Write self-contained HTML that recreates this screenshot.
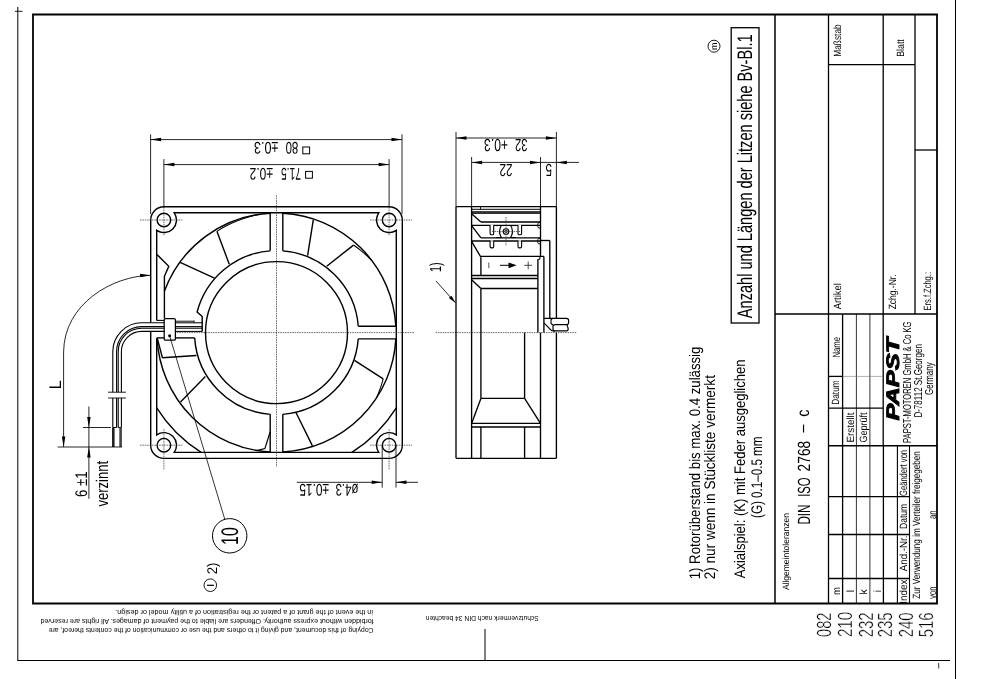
<!DOCTYPE html>
<html><head><meta charset="utf-8"><style>
html,body{margin:0;padding:0;background:#fff;width:1000px;height:679px;overflow:hidden}
svg{display:block;will-change:transform}
text{font-family:"Liberation Sans",sans-serif;-webkit-font-smoothing:antialiased;text-rendering:geometricPrecision}
</style></head><body>
<svg width="1000" height="679" viewBox="0 0 1000 679">
<line x1="17.8" y1="7" x2="17.8" y2="660.5" stroke="#000" stroke-width="1.0"/>
<line x1="15" y1="11.3" x2="22.5" y2="11.3" stroke="#000" stroke-width="0.9"/>
<line x1="17.3" y1="660.5" x2="950" y2="660.5" stroke="#000" stroke-width="1.0"/>
<line x1="955.5" y1="0" x2="955.5" y2="679" stroke="#000" stroke-width="1.0"/>
<line x1="938.7" y1="663" x2="938.7" y2="668.5" stroke="#000" stroke-width="0.8"/>
<line x1="485" y1="629" x2="485" y2="660.5" stroke="#000" stroke-width="1.0"/>
<path d="M33,603.5 L33,14.5 L937,14.5 L937,603.5 Z" fill="none" stroke="#000" stroke-width="1.8"/>
<line x1="775" y1="14.5" x2="775" y2="603.5" stroke="#000" stroke-width="1.5"/>
<line x1="828.5" y1="14.5" x2="828.5" y2="603.5" stroke="#000" stroke-width="1.3"/>
<line x1="883.2" y1="14.5" x2="883.2" y2="446" stroke="#000" stroke-width="1.3"/>
<line x1="915" y1="14.5" x2="915" y2="314" stroke="#000" stroke-width="1.3"/>
<line x1="828.5" y1="64.6" x2="915" y2="64.6" stroke="#000" stroke-width="1.3"/>
<line x1="915" y1="150" x2="937" y2="150" stroke="#000" stroke-width="1.3"/>
<line x1="775" y1="314" x2="937" y2="314" stroke="#000" stroke-width="1.5"/>
<line x1="842.6" y1="314" x2="842.6" y2="603.5" stroke="#000" stroke-width="1.3"/>
<line x1="856.4" y1="314" x2="856.4" y2="603.5" stroke="#000" stroke-width="0.8"/>
<line x1="869.9" y1="314" x2="869.9" y2="603.5" stroke="#000" stroke-width="0.8"/>
<line x1="883.4" y1="446" x2="883.4" y2="603.5" stroke="#000" stroke-width="1.3"/>
<line x1="897.4" y1="446" x2="897.4" y2="603.5" stroke="#000" stroke-width="1.1"/>
<line x1="909.5" y1="446" x2="909.5" y2="603.5" stroke="#000" stroke-width="1.1"/>
<line x1="828.5" y1="376.4" x2="842.6" y2="376.4" stroke="#000" stroke-width="1.3"/>
<line x1="842.6" y1="376.4" x2="883.2" y2="376.4" stroke="#777" stroke-width="0.6"/>
<line x1="828.5" y1="408.2" x2="883.2" y2="408.2" stroke="#000" stroke-width="1.3"/>
<line x1="828.5" y1="445.8" x2="937" y2="445.8" stroke="#000" stroke-width="1.5"/>
<line x1="828.5" y1="496.7" x2="909.5" y2="496.7" stroke="#000" stroke-width="1.3"/>
<line x1="828.5" y1="534.5" x2="909.5" y2="534.5" stroke="#000" stroke-width="1.3"/>
<line x1="828.5" y1="578.5" x2="909.5" y2="578.5" stroke="#000" stroke-width="1.3"/>
<rect x="731.2" y="27.7" width="27.8" height="295.3" fill="none" stroke="#000" stroke-width="1.3"/>
<circle cx="714" cy="46.2" r="6" fill="none" stroke="#000" stroke-width="0.9"/>
<path d="M150.7,322.8 L150.7,220 A13.2,13.2 0 0 1 163.9,206.8 L389.1,206.8 A13.2,13.2 0 0 1 402.3,220 L402.3,445.2 A13.2,13.2 0 0 1 389.1,458.4 L163.9,458.4 A13.2,13.2 0 0 1 150.7,445.2 L150.7,331.6" fill="none" stroke="#000" stroke-width="1.4"/>
<path d="M156.7,320.4 L156.7,230.34 A12.6,12.6 0 0 0 174.24,212.8 L378.76,212.8 A12.6,12.6 0 0 0 396.3,230.34 L396.3,434.86 A12.6,12.6 0 0 0 378.76,452.4 L174.24,452.4 A12.6,12.6 0 0 0 156.7,434.86 L156.7,337.9" fill="none" stroke="#000" stroke-width="1.4"/>
<circle cx="163.9" cy="220" r="6.8" fill="none" stroke="#000" stroke-width="1.4"/>
<line x1="139.9" y1="220" x2="182.9" y2="220" stroke="#333" stroke-width="0.7" stroke-dasharray="1.6,0.8"/>
<line x1="163.9" y1="207" x2="163.9" y2="236" stroke="#333" stroke-width="0.7" stroke-dasharray="1.6,0.8"/>
<circle cx="163.9" cy="445.2" r="6.8" fill="none" stroke="#000" stroke-width="1.4"/>
<line x1="139.9" y1="445.2" x2="182.9" y2="445.2" stroke="#333" stroke-width="0.7" stroke-dasharray="1.6,0.8"/>
<line x1="163.9" y1="429.2" x2="163.9" y2="469.2" stroke="#333" stroke-width="0.7" stroke-dasharray="1.6,0.8"/>
<circle cx="389.1" cy="220" r="6.8" fill="none" stroke="#000" stroke-width="1.4"/>
<line x1="370.1" y1="220" x2="412.1" y2="220" stroke="#333" stroke-width="0.7" stroke-dasharray="1.6,0.8"/>
<line x1="389.1" y1="207" x2="389.1" y2="236" stroke="#333" stroke-width="0.7" stroke-dasharray="1.6,0.8"/>
<circle cx="389.1" cy="445.2" r="6.8" fill="none" stroke="#000" stroke-width="1.4"/>
<line x1="370.1" y1="445.2" x2="412.1" y2="445.2" stroke="#333" stroke-width="0.7" stroke-dasharray="1.6,0.8"/>
<line x1="389.1" y1="429.2" x2="389.1" y2="469.2" stroke="#333" stroke-width="0.7" stroke-dasharray="1.6,0.8"/>
<line x1="276.5" y1="195.3" x2="276.5" y2="467" stroke="#333" stroke-width="0.7" stroke-dasharray="1.6,0.8"/>
<line x1="165" y1="332.6" x2="414" y2="332.6" stroke="#333" stroke-width="0.7" stroke-dasharray="1.6,0.8"/>
<line x1="435.5" y1="332.6" x2="577" y2="332.6" stroke="#333" stroke-width="0.7" stroke-dasharray="1.6,0.8"/>
<circle cx="276.5" cy="332.6" r="71" fill="none" stroke="#000" stroke-width="1.4"/>
<line x1="270.2" y1="250.84" x2="270.2" y2="212.8" stroke="#000" stroke-width="1.4"/>
<line x1="282.8" y1="250.84" x2="282.8" y2="212.8" stroke="#000" stroke-width="1.4"/>
<line x1="270.2" y1="414.36" x2="270.2" y2="452.4" stroke="#000" stroke-width="1.4"/>
<line x1="282.8" y1="414.36" x2="282.8" y2="452.4" stroke="#000" stroke-width="1.4"/>
<line x1="358.26" y1="326.3" x2="396.3" y2="326.3" stroke="#000" stroke-width="1.4"/>
<line x1="358.26" y1="338.9" x2="396.3" y2="338.9" stroke="#000" stroke-width="1.4"/>
<path d="M282.8,250.84 A82.0,82.0 0 0 1 358.26,326.3" fill="none" stroke="#000" stroke-width="1.4"/>
<path d="M358.26,338.9 A82.0,82.0 0 0 1 282.8,414.36" fill="none" stroke="#000" stroke-width="1.4"/>
<path d="M270.2,414.36 A82.0,82.0 0 0 1 194.67,337.9" fill="none" stroke="#000" stroke-width="1.4"/>
<line x1="194.67" y1="337.9" x2="175.4" y2="337.9" stroke="#000" stroke-width="1.4"/>
<line x1="156.7" y1="337.9" x2="164.2" y2="337.9" stroke="#000" stroke-width="1.4"/>
<path d="M270.2,250.84 A82.0,82.0 0 0 0 197.12,312.03 L202.2,316.6 L202.2,331.6" fill="none" stroke="#000" stroke-width="1.4"/>
<path d="M282.8,213.27 A119.5,119.5 0 0 1 395.83,326.3" fill="none" stroke="#000" stroke-width="1.4"/>
<path d="M395.83,338.9 A119.5,119.5 0 0 1 282.8,451.93" fill="none" stroke="#000" stroke-width="1.4"/>
<path d="M270.2,451.93 A119.5,119.5 0 0 1 157.15,338.6" fill="none" stroke="#000" stroke-width="1.4"/>
<path d="M164.4,291.2 A119.5,119.5 0 0 1 270.2,213.27" fill="none" stroke="#000" stroke-width="1.4"/>
<path d="M351.8,452.4 A141.5,141.5 0 0 0 396.3,407.9" fill="none" stroke="#000" stroke-width="1.4"/>
<path d="M156.7,407.9 A141.5,141.5 0 0 0 201.2,452.4" fill="none" stroke="#000" stroke-width="1.4"/>
<polyline points="156.9,254.4 168.8,266.3 164.4,276.3 164.4,318.6" fill="none" stroke="#000" stroke-width="1.4"/>
<line x1="313.3" y1="219.8" x2="307.6" y2="255.7" stroke="#000" stroke-width="1.4"/>
<line x1="353.5" y1="245.1" x2="326.7" y2="266.2" stroke="#000" stroke-width="1.4"/>
<line x1="354.5" y1="360.3" x2="383.2" y2="378.9" stroke="#000" stroke-width="1.4"/>
<line x1="296.1" y1="412.8" x2="312.4" y2="445.9" stroke="#000" stroke-width="1.4"/>
<line x1="162.4" y1="357.7" x2="196.4" y2="355.5" stroke="#000" stroke-width="1.4"/>
<line x1="180.5" y1="401.9" x2="205.4" y2="376.4" stroke="#000" stroke-width="1.4"/>
<line x1="216.9" y1="231.3" x2="229.3" y2="264.3" stroke="#000" stroke-width="1.4"/>
<line x1="180.1" y1="262.3" x2="214.5" y2="278.2" stroke="#000" stroke-width="1.4"/>
<polyline points="157.6,339.4 162.4,357.7" fill="none" stroke="#000" stroke-width="1.4"/>
<polyline points="353.46,245 355.91,246.73 358.33,248.52 360.71,250.39 363.05,252.32 365.34,254.31 367.59,256.37 369.79,258.5 371.94,260.68" fill="none" stroke="#000" stroke-width="1.1"/>
<polyline points="216.86,231.36 221.79,228.33 226.86,225.55 232.08,223.01 237.43,220.73 242.9,218.7 248.47,216.95 254.13,215.47 259.87,214.26" fill="none" stroke="#000" stroke-width="1.1"/>
<polyline points="383.15,378.97 382.48,381.46 381.75,383.93 380.96,386.4 380.11,388.86 379.21,391.3 378.25,393.74 377.23,396.15 376.15,398.56" fill="none" stroke="#000" stroke-width="1.1"/>
<polyline points="270.2,431.8 264.9,448.6 256.5,450.6" fill="none" stroke="#000" stroke-width="1.2"/>
<line x1="175.4" y1="322.8" x2="202.2" y2="322.8" stroke="#000" stroke-width="1.05"/>
<line x1="175.4" y1="326.6" x2="202.2" y2="326.6" stroke="#000" stroke-width="1.05"/>
<line x1="175.4" y1="328.2" x2="202.2" y2="328.2" stroke="#000" stroke-width="1.05"/>
<line x1="175.4" y1="331.4" x2="202.2" y2="331.4" stroke="#000" stroke-width="1.05"/>
<rect x="175.6" y="320.6" width="18.6" height="2.1" fill="#555" stroke="#000" stroke-width="0"/>
<line x1="194.2" y1="320.6" x2="194.2" y2="322.8" stroke="#000" stroke-width="0.8"/>
<line x1="156.7" y1="320.4" x2="164.2" y2="320.4" stroke="#000" stroke-width="1.1"/>
<rect x="164.2" y="318.6" width="11.2" height="21.6" rx="1.3" fill="#fff" stroke="#000" stroke-width="1.25"/>
<circle cx="169.6" cy="335.8" r="1.5" fill="#000" stroke="#000" stroke-width="0"/>
<path d="M164.2,322.8 L141.7,322.8 A28.9,28.9 0 0 0 112.8,351.7 L112.8,392.2" fill="none" stroke="#000" stroke-width="1.1"/>
<path d="M164.2,326.6 L141.7,326.6 A25.1,25.1 0 0 0 116.6,351.7 L116.6,392.2" fill="none" stroke="#000" stroke-width="1.1"/>
<path d="M164.2,328.2 L141.7,328.2 A23.5,23.5 0 0 0 118.2,351.7 L118.2,392.2" fill="none" stroke="#000" stroke-width="1.1"/>
<path d="M164.2,331.4 L141.7,331.4 A20.3,20.3 0 0 0 121.4,351.7 L121.4,392.2" fill="none" stroke="#000" stroke-width="1.1"/>
<line x1="108.1" y1="392.2" x2="125.9" y2="392.2" stroke="#000" stroke-width="0.9"/>
<line x1="108.1" y1="398" x2="125.9" y2="398" stroke="#000" stroke-width="0.9"/>
<line x1="112.8" y1="398" x2="112.8" y2="427.5" stroke="#000" stroke-width="1.1"/>
<line x1="116.6" y1="398" x2="116.6" y2="427.5" stroke="#000" stroke-width="1.1"/>
<line x1="118.2" y1="398" x2="118.2" y2="427.5" stroke="#000" stroke-width="1.1"/>
<line x1="121.4" y1="398" x2="121.4" y2="427.5" stroke="#000" stroke-width="1.1"/>
<line x1="112.8" y1="427.5" x2="116.6" y2="427.5" stroke="#000" stroke-width="1.0"/>
<line x1="118.2" y1="427.5" x2="121.4" y2="427.5" stroke="#000" stroke-width="1.0"/>
<rect x="112" y="427.5" width="2.6" height="19.5" fill="#222" stroke="#000" stroke-width="0"/>
<rect x="119.3" y="427.5" width="2.6" height="19.5" fill="#444" stroke="#000" stroke-width="0"/>
<line x1="169.6" y1="335.8" x2="224.7" y2="519" stroke="#000" stroke-width="0.8"/>
<circle cx="229.7" cy="535.8" r="17.2" fill="none" stroke="#000" stroke-width="1.0"/>
<circle cx="210.3" cy="585.2" r="6.3" fill="none" stroke="#000" stroke-width="0.9"/>
<line x1="207" y1="585.3" x2="213.9" y2="585.3" stroke="#000" stroke-width="1.2"/>
<line x1="150.6" y1="134.3" x2="150.6" y2="214" stroke="#000" stroke-width="0.85"/>
<line x1="402" y1="134.3" x2="402" y2="214" stroke="#000" stroke-width="0.85"/>
<line x1="150.6" y1="139.6" x2="402" y2="139.6" stroke="#000" stroke-width="0.85"/>
<polygon points="150.6,139.6 161.1,137.85 161.1,141.35" fill="#000"/>
<polygon points="402,139.6 391.5,141.35 391.5,137.85" fill="#000"/>
<rect x="302.8" y="147" width="6.8" height="6.8" fill="none" stroke="#000" stroke-width="1.0"/>
<line x1="163.9" y1="159.1" x2="163.9" y2="207.5" stroke="#000" stroke-width="0.85"/>
<line x1="389.1" y1="159.1" x2="389.1" y2="207.5" stroke="#000" stroke-width="0.85"/>
<line x1="163.9" y1="164.6" x2="389.1" y2="164.6" stroke="#000" stroke-width="0.85"/>
<polygon points="163.9,164.6 174.4,162.85 174.4,166.35" fill="#000"/>
<polygon points="389.1,164.6 378.6,166.35 378.6,162.85" fill="#000"/>
<rect x="305.6" y="171.4" width="6.8" height="6.8" fill="none" stroke="#000" stroke-width="1.0"/>
<line x1="382.2" y1="445" x2="382.2" y2="487.6" stroke="#000" stroke-width="0.85"/>
<line x1="396" y1="445" x2="396" y2="487.6" stroke="#000" stroke-width="0.85"/>
<line x1="296.8" y1="482.3" x2="382.2" y2="482.3" stroke="#000" stroke-width="0.85"/>
<line x1="396" y1="482.3" x2="418" y2="482.3" stroke="#000" stroke-width="0.85"/>
<polygon points="382.2,482.3 371.7,484.05 371.7,480.55" fill="#000"/>
<polygon points="396,482.3 406.5,480.55 406.5,484.05" fill="#000"/>
<path d="M150.6,275.3 C112,276 64,304 63.6,352 L63.6,447" fill="none" stroke="#000" stroke-width="0.85"/>
<polygon points="150.6,275.3 140.16,277.36 140.05,273.87" fill="#000"/>
<polygon points="63.6,447 61.85,436.5 65.35,436.5" fill="#000"/>
<line x1="57.7" y1="447" x2="122" y2="447" stroke="#000" stroke-width="0.85"/>
<line x1="83" y1="427.5" x2="111" y2="427.5" stroke="#000" stroke-width="0.85"/>
<line x1="88.9" y1="406.5" x2="88.9" y2="498.8" stroke="#000" stroke-width="0.85"/>
<polygon points="88.9,427.5 87.15,417 90.65,417" fill="#000"/>
<polygon points="88.9,447 90.65,457.5 87.15,457.5" fill="#000"/>
<line x1="456" y1="206.6" x2="556.4" y2="206.6" stroke="#000" stroke-width="1.35"/>
<line x1="456" y1="206.6" x2="456" y2="458.3" stroke="#000" stroke-width="1.35"/>
<line x1="456" y1="458.3" x2="556.4" y2="458.3" stroke="#000" stroke-width="1.35"/>
<line x1="556.4" y1="206.6" x2="556.4" y2="318.4" stroke="#000" stroke-width="1.35"/>
<line x1="556.4" y1="332.6" x2="556.4" y2="458.3" stroke="#000" stroke-width="1.35"/>
<line x1="471.6" y1="206.6" x2="471.6" y2="458.3" stroke="#000" stroke-width="1.35"/>
<line x1="540.5" y1="206.6" x2="540.5" y2="256.4" stroke="#000" stroke-width="1.35"/>
<line x1="540.5" y1="332.6" x2="540.5" y2="458.3" stroke="#000" stroke-width="1.35"/>
<line x1="471.6" y1="209.3" x2="540.5" y2="209.3" stroke="#000" stroke-width="1.0"/>
<line x1="480.5" y1="206.6" x2="480.5" y2="209.3" stroke="#000" stroke-width="0.9"/>
<line x1="471.6" y1="212" x2="540.5" y2="212" stroke="#000" stroke-width="1.35"/>
<line x1="471.6" y1="213.3" x2="540.5" y2="213.3" stroke="#000" stroke-width="1.0"/>
<line x1="471.6" y1="213.8" x2="480.9" y2="222" stroke="#000" stroke-width="1.35"/>
<line x1="471.6" y1="225.6" x2="480.9" y2="237.8" stroke="#000" stroke-width="1.35"/>
<line x1="471.6" y1="241.4" x2="480.9" y2="257.2" stroke="#000" stroke-width="1.35"/>
<line x1="480.9" y1="222" x2="540.5" y2="222" stroke="#000" stroke-width="1.35"/>
<line x1="471.6" y1="225.3" x2="540.5" y2="225.3" stroke="#000" stroke-width="1.35"/>
<line x1="480.9" y1="237.8" x2="540.5" y2="237.8" stroke="#000" stroke-width="1.35"/>
<line x1="471.6" y1="241" x2="540.5" y2="241" stroke="#000" stroke-width="1.35"/>
<path d="M540.5,222.5 L538.5,222.5 L537.8,224.0 L537.8,226.5 L538.5,228.0 L540.5,228.0" fill="none" stroke="#000" stroke-width="0.9"/>
<path d="M540.5,238.3 L538.5,238.3 L537.8,239.8 L537.8,242.3 L538.5,243.8 L540.5,243.8" fill="none" stroke="#000" stroke-width="0.9"/>
<path d="M490.1,225.3 L490.1,233.5 Q490.1,234.8 491.40000000000003,234.8 L492.40000000000003,234.8 Q493.70000000000005,234.8 493.70000000000005,233.5 L493.70000000000005,225.3" fill="none" stroke="#000" stroke-width="1.1"/>
<path d="M490.1,241.0 L490.1,246.6 Q490.1,247.9 491.40000000000003,247.9 L492.40000000000003,247.9 Q493.70000000000005,247.9 493.70000000000005,246.6 L493.70000000000005,241.0" fill="none" stroke="#000" stroke-width="1.1"/>
<rect x="490.6" y="224.6" width="2.6" height="1.4" fill="#fff"/>
<rect x="490.6" y="240.3" width="2.6" height="1.4" fill="#fff"/>
<path d="M518.0,225.3 L518.0,233.5 Q518.0,234.8 519.3,234.8 L520.3,234.8 Q521.6,234.8 521.6,233.5 L521.6,225.3" fill="none" stroke="#000" stroke-width="1.1"/>
<path d="M518.0,241.0 L518.0,246.6 Q518.0,247.9 519.3,247.9 L520.3,247.9 Q521.6,247.9 521.6,246.6 L521.6,241.0" fill="none" stroke="#000" stroke-width="1.1"/>
<rect x="518.5" y="224.6" width="2.6" height="1.4" fill="#fff"/>
<rect x="518.5" y="240.3" width="2.6" height="1.4" fill="#fff"/>
<circle cx="506" cy="231.5" r="2.8" fill="none" stroke="#000" stroke-width="1.1"/>
<rect x="505" y="230.5" width="2" height="2" fill="none" stroke="#000" stroke-width="0.6"/>
<path d="M501.5,225.3 Q497.5,231.5 501.5,237.8" fill="none" stroke="#000" stroke-width="1.1"/>
<path d="M510.5,225.3 Q514.5,231.5 510.5,237.8" fill="none" stroke="#000" stroke-width="1.1"/>
<line x1="496.2" y1="225.6" x2="501.5" y2="225.6" stroke="#000" stroke-width="1.0"/>
<line x1="510.5" y1="225.6" x2="515.8" y2="225.6" stroke="#000" stroke-width="1.0"/>
<line x1="496.2" y1="237.5" x2="501.5" y2="237.5" stroke="#000" stroke-width="1.0"/>
<line x1="510.5" y1="237.5" x2="515.8" y2="237.5" stroke="#000" stroke-width="1.0"/>
<line x1="506" y1="217" x2="506" y2="246" stroke="#333" stroke-width="0.7" stroke-dasharray="1.6,0.8"/>
<line x1="492" y1="231.5" x2="520" y2="231.5" stroke="#333" stroke-width="0.7" stroke-dasharray="1.6,0.8"/>
<line x1="480.9" y1="257.2" x2="480.9" y2="275.5" stroke="#000" stroke-width="1.35"/>
<line x1="480.9" y1="256.4" x2="543.9" y2="256.4" stroke="#000" stroke-width="1.35"/>
<line x1="537.9" y1="259.3" x2="539.9" y2="259.3" stroke="#000" stroke-width="1.0"/>
<line x1="539.9" y1="256.4" x2="539.9" y2="259.3" stroke="#000" stroke-width="1.0"/>
<line x1="537.9" y1="259.3" x2="537.9" y2="332.6" stroke="#000" stroke-width="1.35"/>
<line x1="543.9" y1="256.4" x2="543.9" y2="332.6" stroke="#000" stroke-width="1.35"/>
<line x1="540.5" y1="240.5" x2="549.8" y2="240.5" stroke="#000" stroke-width="1.35"/>
<line x1="549.8" y1="240.5" x2="549.8" y2="318.4" stroke="#000" stroke-width="1.35"/>
<line x1="488.8" y1="262.5" x2="488.8" y2="268.2" stroke="#555" stroke-width="1.0"/>
<line x1="500" y1="265.3" x2="511" y2="265.3" stroke="#000" stroke-width="1.0"/>
<polygon points="516.7,265.3 508.5,262.4 508.5,268.2" fill="#000"/>
<line x1="524.3" y1="265.3" x2="532.1" y2="265.3" stroke="#333" stroke-width="0.9"/>
<line x1="528.2" y1="261.6" x2="528.2" y2="269.2" stroke="#333" stroke-width="0.9"/>
<line x1="471.6" y1="275.5" x2="537.9" y2="275.5" stroke="#000" stroke-width="1.35"/>
<line x1="471.6" y1="278.5" x2="537.9" y2="278.5" stroke="#000" stroke-width="1.35"/>
<line x1="471.6" y1="279.8" x2="480.9" y2="288.5" stroke="#000" stroke-width="1.35"/>
<line x1="480.9" y1="288.5" x2="537.9" y2="288.5" stroke="#000" stroke-width="1.35"/>
<line x1="480.9" y1="288.5" x2="480.9" y2="398.4" stroke="#000" stroke-width="1.35"/>
<path d="M543.9,318.4 L566.5,318.4 Q568.6,318.4 568.6,320.5 L568.6,322.5 Q568.6,324.6 566.5,324.6 L555,324.6 Q553,324.6 553,326.7 L553,328.7 Q553,330.9 555,330.9 L566.5,330.9 Q568.2,330.9 568.2,328.8 L567.6,326.6 Q567.2,324.6 566.5,324.6" fill="none" stroke="#000" stroke-width="1.2"/>
<line x1="550" y1="318.4" x2="550" y2="318.4" stroke="#000" stroke-width="1"/>
<path d="M553,318.4 Q551,318.4 551,320.5 L551,322.5 Q551,324.6 553,324.6" fill="none" stroke="#000" stroke-width="1.1"/>
<line x1="543.9" y1="322.8" x2="551.8" y2="330.9" stroke="#000" stroke-width="1.2"/>
<line x1="551.8" y1="330.9" x2="555" y2="330.9" stroke="#000" stroke-width="1.2"/>
<line x1="524.6" y1="332.6" x2="524.6" y2="398.4" stroke="#000" stroke-width="1.35"/>
<line x1="480.9" y1="398.4" x2="524.6" y2="398.4" stroke="#000" stroke-width="1.35"/>
<line x1="480.9" y1="398.4" x2="471.6" y2="423.4" stroke="#000" stroke-width="1.35"/>
<line x1="524.6" y1="398.4" x2="540.5" y2="423.4" stroke="#000" stroke-width="1.35"/>
<line x1="471.6" y1="423.4" x2="540.5" y2="423.4" stroke="#000" stroke-width="1.35"/>
<line x1="471.6" y1="427" x2="540.5" y2="427" stroke="#000" stroke-width="1.35"/>
<line x1="480.9" y1="427" x2="480.9" y2="458.3" stroke="#000" stroke-width="1.35"/>
<line x1="524.6" y1="427" x2="524.6" y2="458.3" stroke="#000" stroke-width="1.35"/>
<line x1="456" y1="132" x2="456" y2="206.6" stroke="#000" stroke-width="0.85"/>
<line x1="556.4" y1="132" x2="556.4" y2="206.6" stroke="#000" stroke-width="0.85"/>
<line x1="456" y1="138" x2="556.4" y2="138" stroke="#000" stroke-width="0.85"/>
<polygon points="456,138 466.5,136.25 466.5,139.75" fill="#000"/>
<polygon points="556.4,138 545.9,139.75 545.9,136.25" fill="#000"/>
<line x1="471.6" y1="157" x2="471.6" y2="206.6" stroke="#000" stroke-width="0.85"/>
<line x1="540.5" y1="157" x2="540.5" y2="206.6" stroke="#000" stroke-width="0.85"/>
<line x1="471.6" y1="162.4" x2="540.5" y2="162.4" stroke="#000" stroke-width="0.85"/>
<polygon points="471.6,162.4 482.1,160.65 482.1,164.15" fill="#000"/>
<polygon points="540.5,162.4 530,164.15 530,160.65" fill="#000"/>
<line x1="540.5" y1="162.4" x2="579" y2="162.4" stroke="#000" stroke-width="0.85"/>
<polygon points="556.4,162.4 566.9,160.65 566.9,164.15" fill="#000"/>
<line x1="435.9" y1="280.9" x2="455.5" y2="302.8" stroke="#000" stroke-width="0.85"/>
<polygon points="455.5,302.8 448.82,298.04 451.51,295.64" fill="#000"/>
<text x="0" y="0" font-size="10.50" textLength="32.45" lengthAdjust="spacingAndGlyphs" transform="translate(840.72,56.75) rotate(-90)">Maßstab</text>
<text x="0" y="0" font-size="10.50" textLength="17.50" lengthAdjust="spacingAndGlyphs" transform="translate(904.47,56.75) rotate(-90)">Blatt</text>
<text x="0" y="0" font-size="10.50" textLength="26.05" lengthAdjust="spacingAndGlyphs" transform="translate(841.22,309.30) rotate(-90)">Artikel</text>
<text x="0" y="0" font-size="10.50" textLength="34.80" lengthAdjust="spacingAndGlyphs" transform="translate(895.72,309.30) rotate(-90)">Zchg.-Nr.</text>
<text x="0" y="0" font-size="10.50" textLength="38.50" lengthAdjust="spacingAndGlyphs" transform="translate(931.22,310.50) rotate(-90)">Ers.f.Zchg.:</text>
<text x="0" y="0" font-size="10.50" textLength="20.50" lengthAdjust="spacingAndGlyphs" transform="translate(840.22,357.50) rotate(-90)">Name</text>
<text x="0" y="0" font-size="10.50" textLength="24.50" lengthAdjust="spacingAndGlyphs" transform="translate(839.22,404.80) rotate(-90)">Datum</text>
<text x="0" y="0" font-size="10.50" textLength="30.10" lengthAdjust="spacingAndGlyphs" transform="translate(854.12,442.60) rotate(-90)">Erstellt</text>
<text x="0" y="0" font-size="10.50" textLength="30.10" lengthAdjust="spacingAndGlyphs" transform="translate(867.22,442.60) rotate(-90)">Geprüft</text>
<text x="0" y="0" font-size="10.50" textLength="46.10" lengthAdjust="spacingAndGlyphs" transform="translate(907.32,496.00) rotate(-90)">Geändert von</text>
<text x="0" y="0" font-size="10.50" textLength="25.10" lengthAdjust="spacingAndGlyphs" transform="translate(907.22,528.90) rotate(-90)">Datum</text>
<text x="0" y="0" font-size="10.50" textLength="35.60" lengthAdjust="spacingAndGlyphs" transform="translate(907.22,571.20) rotate(-90)">And.-Nr.</text>
<text x="0" y="0" font-size="10.50" textLength="24.20" lengthAdjust="spacingAndGlyphs" transform="translate(907.22,603.70) rotate(-90)">Index</text>
<text x="0" y="0" font-size="10.50" textLength="147.60" lengthAdjust="spacingAndGlyphs" transform="translate(920.22,598.70) rotate(-90)">Zur Verwendung im Verteiler freigegeben</text>
<text x="0" y="0" font-size="10.50" textLength="12.10" lengthAdjust="spacingAndGlyphs" transform="translate(935.82,598.70) rotate(-90)">von</text>
<text x="0" y="0" font-size="10.50" textLength="8.70" lengthAdjust="spacingAndGlyphs" transform="translate(935.82,519.00) rotate(-90)">an</text>
<text x="0" y="0" font-size="10.50" textLength="7.90" lengthAdjust="spacingAndGlyphs" transform="translate(840.22,595.10) rotate(-90)">m</text>
<text x="0" y="0" font-size="10.50" transform="translate(854.30,592.30) rotate(-90)">l</text>
<text x="0" y="0" font-size="10.50" transform="translate(866.92,594.50) rotate(-90)">k</text>
<text x="0" y="0" font-size="10.50" transform="translate(880.50,592.30) rotate(-90)">i</text>
<text x="0" y="0" font-size="9.00" textLength="77.00" lengthAdjust="spacingAndGlyphs" transform="translate(789.19,590.10) rotate(-90)">Allgemeintoleranzen</text>
<text x="0" y="0" font-size="17.60" textLength="20.20" lengthAdjust="spacingAndGlyphs" transform="translate(809.81,524.60) rotate(-90)">DIN</text>
<text x="0" y="0" font-size="17.60" textLength="19.40" lengthAdjust="spacingAndGlyphs" transform="translate(809.81,496.80) rotate(-90)">ISO</text>
<text x="0" y="0" font-size="17.60" textLength="30.60" lengthAdjust="spacingAndGlyphs" transform="translate(809.81,471.40) rotate(-90)">2768</text>
<text x="0" y="0" font-size="17.60" textLength="7.90" lengthAdjust="spacingAndGlyphs" transform="translate(808.20,432.40) rotate(-90)">–</text>
<text x="0" y="0" font-size="17.60" textLength="7.20" lengthAdjust="spacingAndGlyphs" transform="translate(808.70,416.80) rotate(-90)">c</text>
<text x="0" y="0" font-size="18.00" textLength="82.80" lengthAdjust="spacingAndGlyphs" font-weight="bold" font-style="italic" stroke="#000" stroke-width="0.9" transform="translate(898.58,420.60) rotate(-90)">PAPST</text>
<text x="0" y="0" font-size="11.50" textLength="121.40" lengthAdjust="spacingAndGlyphs" transform="translate(910.51,442.90) rotate(-90)">PAPST-MOTOREN GmbH &amp; Co KG</text>
<text x="0" y="0" font-size="11.50" textLength="73.50" lengthAdjust="spacingAndGlyphs" transform="translate(921.51,417.60) rotate(-90)">D-78112 St.Georgen</text>
<text x="0" y="0" font-size="11.50" textLength="32.60" lengthAdjust="spacingAndGlyphs" transform="translate(933.01,395.00) rotate(-90)">Germany</text>
<text x="0" y="0" font-size="21.00" textLength="283.80" lengthAdjust="spacingAndGlyphs" transform="translate(752.25,318.20) rotate(-90)">Anzahl und Längen der Litzen siehe Bv-Bl.1</text>
<text x="0" y="0" font-size="15.30" textLength="232.70" lengthAdjust="spacingAndGlyphs" transform="translate(700.23,579.30) rotate(-90)">1) Rotorüberstand bis max. 0.4 zulässig</text>
<text x="0" y="0" font-size="15.30" textLength="204.20" lengthAdjust="spacingAndGlyphs" transform="translate(715.33,579.30) rotate(-90)">2) nur wenn in Stückliste vermerkt</text>
<text x="0" y="0" font-size="15.30" textLength="218.80" lengthAdjust="spacingAndGlyphs" transform="translate(745.23,578.30) rotate(-90)">Axialspiel: (K) mit Feder ausgeglichen</text>
<text x="0" y="0" font-size="15.30" textLength="81.50" lengthAdjust="spacingAndGlyphs" transform="translate(762.21,518.00) rotate(-90)">(G) 0.1–0.5 mm</text>
<text x="0" y="0" font-size="20.50" textLength="24.30" lengthAdjust="spacingAndGlyphs" stroke="#fff" stroke-width="0.4" transform="translate(831.00,636.90) rotate(-90)">082</text>
<text x="0" y="0" font-size="20.50" textLength="25.40" lengthAdjust="spacingAndGlyphs" stroke="#fff" stroke-width="0.4" transform="translate(851.80,637.10) rotate(-90)">210</text>
<text x="0" y="0" font-size="20.50" textLength="25.00" lengthAdjust="spacingAndGlyphs" stroke="#fff" stroke-width="0.4" transform="translate(872.50,637.30) rotate(-90)">232</text>
<text x="0" y="0" font-size="20.50" textLength="25.00" lengthAdjust="spacingAndGlyphs" stroke="#fff" stroke-width="0.4" transform="translate(892.00,637.30) rotate(-90)">235</text>
<text x="0" y="0" font-size="20.50" textLength="25.00" lengthAdjust="spacingAndGlyphs" stroke="#fff" stroke-width="0.4" transform="translate(913.10,637.30) rotate(-90)">240</text>
<text x="0" y="0" font-size="20.50" textLength="25.00" lengthAdjust="spacingAndGlyphs" stroke="#fff" stroke-width="0.4" transform="translate(932.70,637.30) rotate(-90)">516</text>
<text x="0" y="0" font-size="7.20" textLength="257.60" lengthAdjust="spacingAndGlyphs" transform="translate(372.90,610.15) rotate(180)">in the event of the grant of a patent or the registration of a utility model or design.</text>
<text x="0" y="0" font-size="7.20" textLength="333.10" lengthAdjust="spacingAndGlyphs" transform="translate(373.60,618.95) rotate(180)">forbidden without express authority. Offenders are liable to the payment of damages. All rights are reserved</text>
<text x="0" y="0" font-size="7.20" textLength="325.00" lengthAdjust="spacingAndGlyphs" transform="translate(373.60,628.05) rotate(180)">Copying of this document, and giving it to others and the use or communication of the contents thereof, are</text>
<text x="0" y="0" font-size="7.20" textLength="113.05" lengthAdjust="spacingAndGlyphs" transform="translate(538.80,615.85) rotate(180)">Schutzvermerk nach DIN 34 beachten</text>
<text x="0" y="0" font-size="16.90" textLength="12.80" lengthAdjust="spacingAndGlyphs" transform="translate(298.30,141.97) rotate(180)">80</text>
<text x="0" y="0" font-size="16.90" textLength="24.40" lengthAdjust="spacingAndGlyphs" transform="translate(278.30,141.97) rotate(180)">±0.3</text>
<text x="0" y="0" font-size="16.90" textLength="19.80" lengthAdjust="spacingAndGlyphs" transform="translate(300.90,167.57) rotate(180)">71.5</text>
<text x="0" y="0" font-size="16.90" textLength="23.20" lengthAdjust="spacingAndGlyphs" transform="translate(272.90,167.57) rotate(180)">±0.2</text>
<text x="0" y="0" font-size="16.90" textLength="23.00" lengthAdjust="spacingAndGlyphs" transform="translate(358.50,484.17) rotate(180)">ø4.3</text>
<text x="0" y="0" font-size="16.90" textLength="29.80" lengthAdjust="spacingAndGlyphs" transform="translate(329.10,484.17) rotate(180)">±0.15</text>
<text x="0" y="0" font-size="17.50" textLength="12.50" lengthAdjust="spacingAndGlyphs" transform="translate(527.50,139.46) rotate(180)">32</text>
<text x="0" y="0" font-size="17.50" textLength="24.00" lengthAdjust="spacingAndGlyphs" transform="translate(508.00,139.46) rotate(180)">+0.3</text>
<text x="0" y="0" font-size="17.50" textLength="13.00" lengthAdjust="spacingAndGlyphs" transform="translate(512.50,163.96) rotate(180)">22</text>
<text x="0" y="0" font-size="17.50" textLength="6.50" lengthAdjust="spacingAndGlyphs" transform="translate(552.00,163.96) rotate(180)">5</text>
<text x="0" y="0" font-size="16.90" transform="translate(61.03,389.50) rotate(-90)">L</text>
<text x="0" y="0" font-size="16.90" textLength="25.70" lengthAdjust="spacingAndGlyphs" transform="translate(86.53,497.00) rotate(-90)">6 ±1</text>
<text x="0" y="0" font-size="16.90" textLength="45.50" lengthAdjust="spacingAndGlyphs" transform="translate(107.83,506.50) rotate(-90)">verzinnt</text>
<text x="0" y="0" font-size="24.00" textLength="17.70" lengthAdjust="spacingAndGlyphs" transform="translate(237.91,544.90) rotate(-90)">10</text>
<text x="0" y="0" font-size="14.00" textLength="11.80" lengthAdjust="spacingAndGlyphs" transform="translate(216.97,574.30) rotate(-90)">2)</text>
<text x="0" y="0" font-size="16.00" textLength="9.60" lengthAdjust="spacingAndGlyphs" transform="translate(440.70,272.00) rotate(-90)">1)</text>
<text x="0" y="0" font-size="9.00" transform="translate(716.60,50.00) rotate(-90)">m</text>
</svg>
</body></html>
